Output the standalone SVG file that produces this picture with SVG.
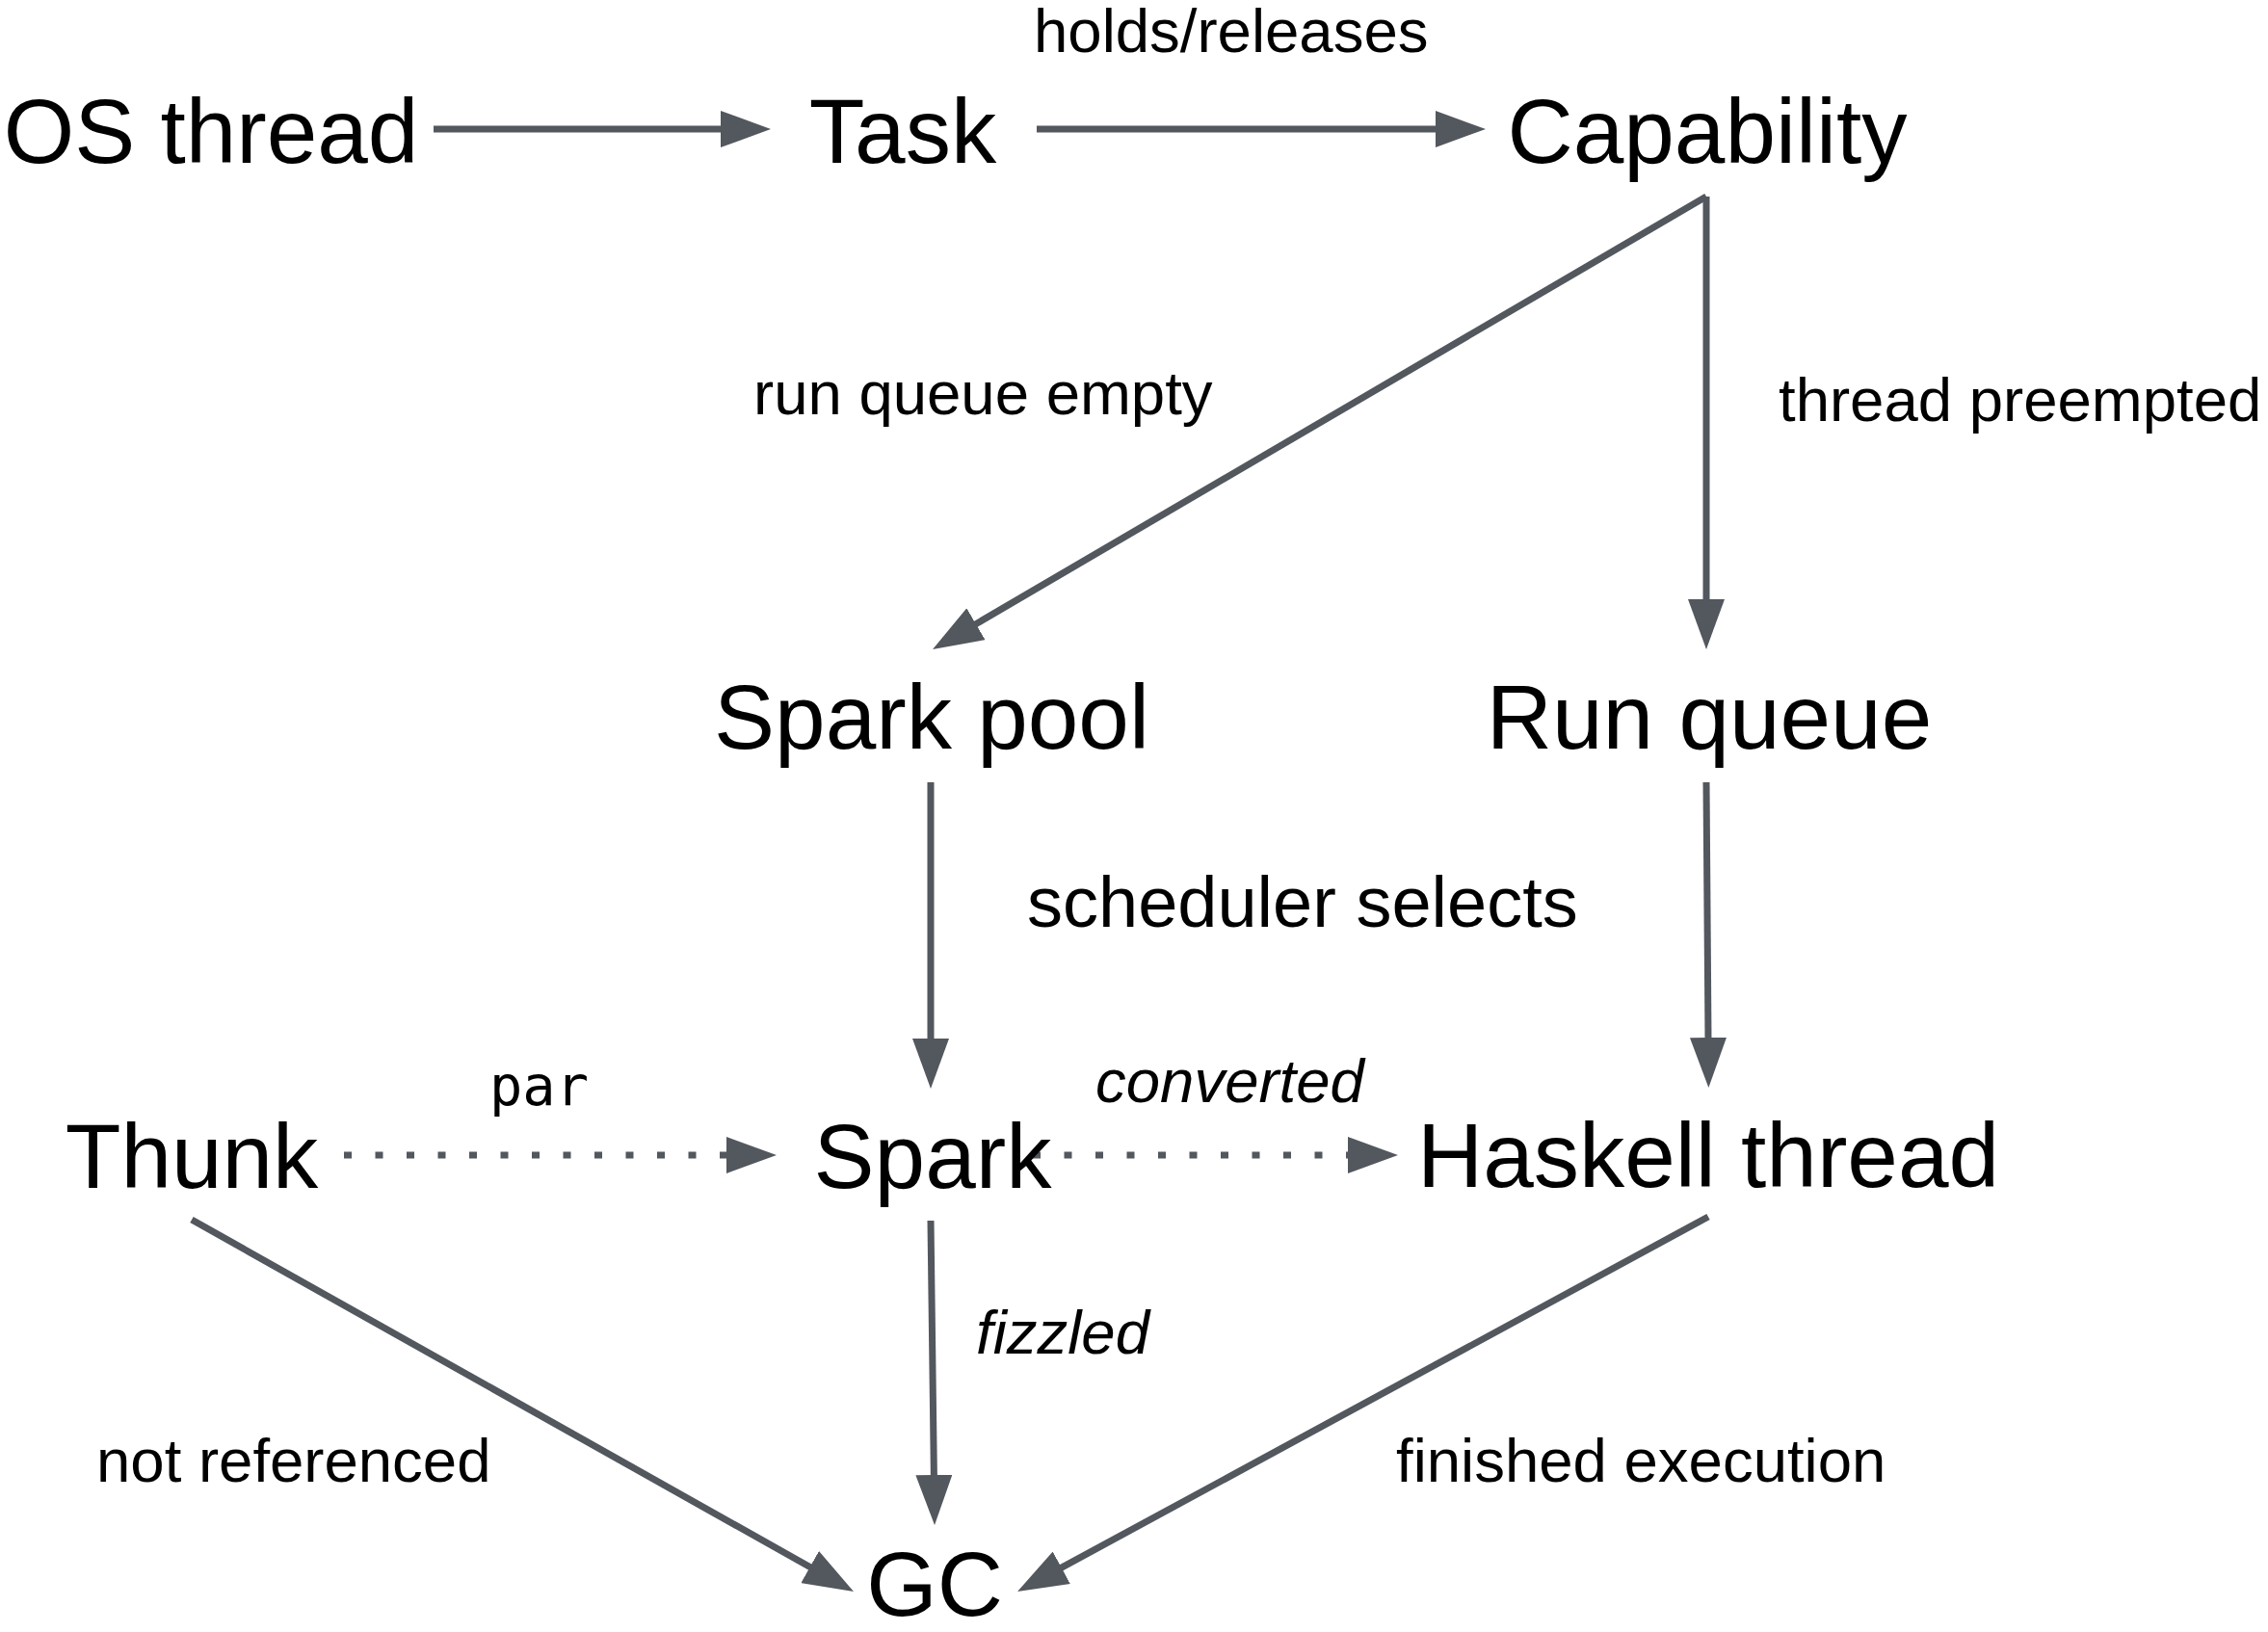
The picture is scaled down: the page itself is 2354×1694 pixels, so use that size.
<svg xmlns="http://www.w3.org/2000/svg" width="2354" height="1694" viewBox="0 0 2354 1694">
<style>
.node{font-family:"Liberation Sans",Arial,sans-serif;font-size:94.5px;fill:#000;text-anchor:middle}
.lbl{font-family:"Liberation Sans",Arial,sans-serif;font-size:63.5px;fill:#000}
.big{font-size:74px}
.it{font-style:italic}
.mono{font-family:"DejaVu Sans Mono",monospace;font-size:57px;fill:#000}
.edge{stroke:#53575e;stroke-width:7;fill:none;marker-end:url(#ah)}
.dot{stroke-dasharray:8 24.5}
</style>
<defs>
<marker id="ah" markerUnits="userSpaceOnUse" markerWidth="52" markerHeight="38" viewBox="0 0 52 38" refX="2" refY="19" orient="auto">
<path d="M0,0 L52,19 L0,38 z" fill="#53575e"/>
</marker>
</defs>
<rect width="2354" height="1694" fill="#fff"/>
<g id="connectors">
<line class="edge" x1="450" y1="134" x2="750" y2="134"/>
<line class="edge" x1="1076" y1="134" x2="1492" y2="134"/>
<line class="edge" x1="1771" y1="204" x2="1011.2" y2="648.7"/>
<line class="edge" x1="1771" y1="204" x2="1771" y2="624"/>
<line class="edge" x1="966" y1="812" x2="966" y2="1080"/>
<line class="edge" x1="1771" y1="812" x2="1773" y2="1079"/>
<line class="edge dot" x1="357" y1="1199" x2="756" y2="1199"/>
<line class="edge dot" x1="1072" y1="1199" x2="1401" y2="1199"/>
<line class="edge" x1="199" y1="1266" x2="842.4" y2="1627.5"/>
<line class="edge" x1="966" y1="1267" x2="969.4" y2="1533"/>
<line class="edge" x1="1773" y1="1263" x2="1100" y2="1628.2"/>
</g>
<g id="edge-labels">
<text class="lbl" x="1073" y="54">holds/releases</text>
<text class="lbl" x="782" y="430">run queue empty</text>
<text class="lbl" x="1846" y="437">thread preempted</text>
<text class="lbl big" x="1066" y="962">scheduler selects</text>
<text class="mono" x="508" y="1147">par</text>
<text class="lbl it" x="1137" y="1144">converted</text>
<text class="lbl it" x="1013" y="1405">fizzled</text>
<text class="lbl" x="100" y="1538">not referenced</text>
<text class="lbl" x="1449" y="1538">finished execution</text>
</g>
<g id="os-thread"><text class="node" x="219" y="169">OS thread</text></g>
<g id="task"><text class="node" x="937" y="169">Task</text></g>
<g id="capability"><text class="node" x="1772" y="169">Capability</text></g>
<g id="spark-pool"><text class="node" x="967" y="777">Spark pool</text></g>
<g id="run-queue"><text class="node" x="1774" y="777">Run queue</text></g>
<g id="thunk"><text class="node" x="199" y="1233">Thunk</text></g>
<g id="spark"><text class="node" x="968" y="1233">Spark</text></g>
<g id="haskell-thread"><text class="node" x="1773" y="1232">Haskell thread</text></g>
<g id="gc"><text class="node" x="970" y="1677">GC</text></g>
</svg>
